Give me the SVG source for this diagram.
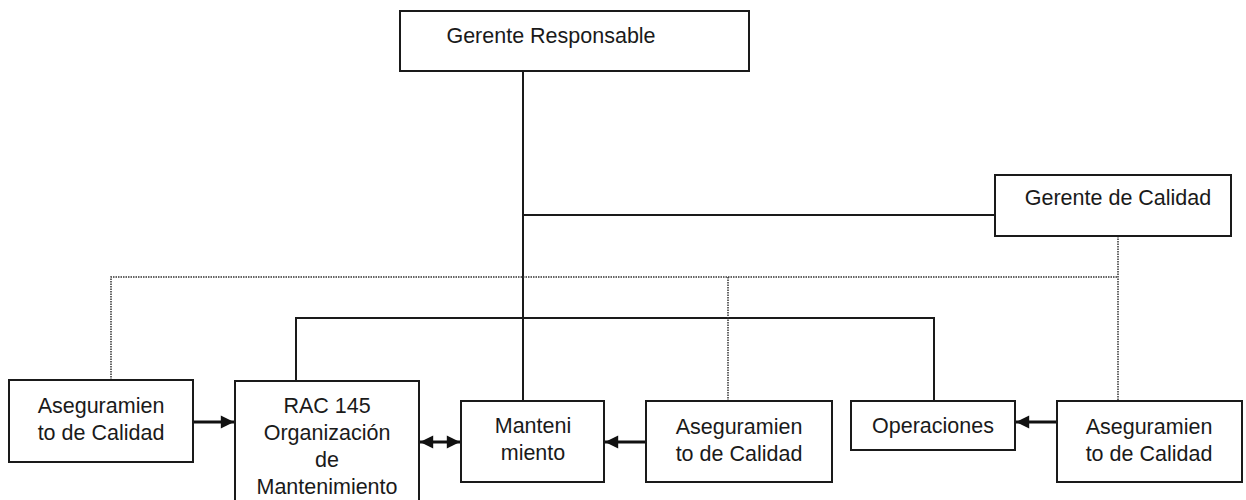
<svg xmlns="http://www.w3.org/2000/svg" width="1246" height="500" viewBox="0 0 1246 500">
<style>
.box{fill:#fff;stroke:#1a1a1a;stroke-width:2}
.t{font-family:"Liberation Sans",Arial,sans-serif;font-size:21.5px;fill:#1a1a1a;text-anchor:middle}
.s{fill:none;stroke:#1a1a1a;stroke-width:2}
.d{fill:none;stroke:#333;stroke-width:1.5;stroke-dasharray:1.5 1}
.a{fill:none;stroke:#111;stroke-width:3}
</style>
<defs>
<marker id="ah" viewBox="0 0 10 10" refX="10" refY="5" markerWidth="5" markerHeight="4.4" markerUnits="strokeWidth" orient="auto-start-reverse">
<path d="M0,0 L10,5 L0,10 Z" fill="#111"/>
</marker>
</defs>
<rect width="1246" height="500" fill="#fff"/>
<g id="connectors">
<line class="s" x1="523" y1="71" x2="523" y2="401"/>
<line class="s" x1="523" y1="215" x2="995" y2="215"/>
<polyline class="s" points="296,381 296,318 934,318 934,401"/>
<polyline class="d" points="111,380 111,277 1118,277"/>
<line class="d" x1="1118" y1="236" x2="1118" y2="401"/>
<line class="d" x1="728" y1="277" x2="728" y2="401"/>
<line class="a" x1="193" y1="422" x2="234" y2="422" marker-end="url(#ah)"/>
<line class="a" x1="420" y1="442" x2="460" y2="442" marker-start="url(#ah)" marker-end="url(#ah)"/>
<line class="a" x1="646" y1="442" x2="605" y2="442" marker-end="url(#ah)"/>
<line class="a" x1="1057" y1="422" x2="1016" y2="422" marker-end="url(#ah)"/>
</g>
<g id="gerente-responsable">
<rect class="box" x="400" y="11" width="349" height="60"/>
<text class="t" x="551" y="43">Gerente Responsable</text>
</g>
<g id="gerente-calidad">
<rect class="box" x="995" y="175" width="236" height="61"/>
<text class="t" x="1118" y="205">Gerente de Calidad</text>
</g>
<g id="aseg-1">
<rect class="box" x="9" y="380" width="184" height="82"/>
<text class="t" x="101" y="413">Aseguramien</text>
<text class="t" x="101" y="440">to de Calidad</text>
</g>
<g id="rac145">
<rect class="box" x="235" y="381" width="184" height="125"/>
<text class="t" x="327" y="413">RAC 145</text>
<text class="t" x="327" y="440">Organización</text>
<text class="t" x="327" y="467">de</text>
<text class="t" x="327" y="494">Mantenimiento</text>
</g>
<g id="mantenimiento">
<rect class="box" x="461" y="401" width="143" height="81"/>
<text class="t" x="533" y="433">Manteni</text>
<text class="t" x="533" y="460">miento</text>
</g>
<g id="aseg-2">
<rect class="box" x="646" y="401" width="186" height="81"/>
<text class="t" x="739" y="434">Aseguramien</text>
<text class="t" x="739" y="461">to de Calidad</text>
</g>
<g id="operaciones">
<rect class="box" x="851" y="401" width="164" height="49"/>
<text class="t" x="933" y="433">Operaciones</text>
</g>
<g id="aseg-3">
<rect class="box" x="1057" y="401" width="185" height="81"/>
<text class="t" x="1149" y="434">Aseguramien</text>
<text class="t" x="1149" y="461">to de Calidad</text>
</g>
</svg>
